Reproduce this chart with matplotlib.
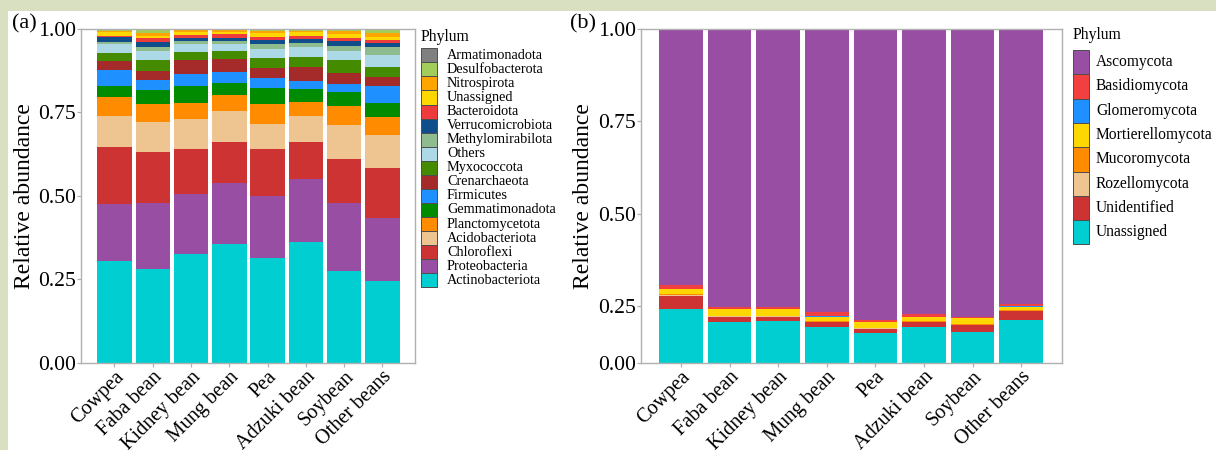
import numpy as np
import matplotlib
matplotlib.use("Agg")
import matplotlib.pyplot as plt
from matplotlib.patches import Rectangle
from matplotlib.ticker import NullLocator

plt.rcParams['font.family'] = ['Liberation Serif', 'DejaVu Serif']

# ---------------- data ----------------
crops = ["Cowpea", "Faba bean", "Kidney bean", "Mung bean", "Pea",
         "Adzuki bean", "Soybean", "Other beans"]

# Bacterial phyla, listed from the bottom of each stack to the top
bac_phyla = ["Actinobacteriota", "Proteobacteria", "Chloroflexi", "Acidobacteriota",
             "Planctomycetota", "Gemmatimonadota", "Firmicutes", "Crenarchaeota",
             "Myxococcota", "Others", "Methylomirabilota", "Verrucomicrobiota",
             "Bacteroidota", "Unassigned", "Nitrospirota", "Desulfobacterota",
             "Armatimonadota"]
bac_colors = ["#00CED1", "#984EA3", "#CD3333", "#EEC591", "#FF8C00", "#008B00",
              "#1E90FF", "#A52A2A", "#458B00", "#ADD8E6", "#8FBC8F", "#104E8B",
              "#EE3B3B", "#FFD700", "#FFA500", "#A2CD5A", "#808080"]

actinobacteriota  = [0.306, 0.280, 0.326, 0.356, 0.314, 0.362, 0.274, 0.244]
proteobacteria    = [0.169, 0.198, 0.180, 0.183, 0.186, 0.189, 0.204, 0.191]
chloroflexi       = [0.171, 0.152, 0.135, 0.123, 0.139, 0.110, 0.131, 0.148]
acidobacteriota   = [0.094, 0.091, 0.090, 0.092, 0.076, 0.077, 0.102, 0.099]
planctomycetota   = [0.055, 0.054, 0.047, 0.048, 0.059, 0.043, 0.059, 0.055]
gemmatimonadota   = [0.035, 0.042, 0.052, 0.037, 0.049, 0.039, 0.042, 0.042]
firmicutes        = [0.047, 0.029, 0.034, 0.032, 0.029, 0.023, 0.024, 0.051]
crenarchaeota     = [0.028, 0.027, 0.042, 0.040, 0.031, 0.044, 0.032, 0.026]
myxococcota       = [0.022, 0.033, 0.026, 0.023, 0.031, 0.030, 0.039, 0.031]
others_bac        = [0.027, 0.029, 0.022, 0.020, 0.025, 0.028, 0.028, 0.035]
methylomirabilota = [0.008, 0.012, 0.010, 0.010, 0.015, 0.012, 0.015, 0.023]
verrucomicrobiota = [0.013, 0.013, 0.010, 0.010, 0.013, 0.012, 0.015, 0.012]
bacteroidota      = [0.005, 0.012, 0.008, 0.010, 0.008, 0.010, 0.007, 0.010]
unassigned_bac    = [0.010, 0.008, 0.010, 0.008, 0.013, 0.011, 0.013, 0.009]
nitrospirota      = [0.005, 0.007, 0.004, 0.004, 0.006, 0.005, 0.008, 0.011]
desulfobacterota  = [0.003, 0.011, 0.002, 0.002, 0.003, 0.003, 0.005, 0.010]
armatimonadota    = [0.002, 0.002, 0.002, 0.002, 0.003, 0.002, 0.002, 0.003]

bac_values = [actinobacteriota, proteobacteria, chloroflexi, acidobacteriota,
              planctomycetota, gemmatimonadota, firmicutes, crenarchaeota,
              myxococcota, others_bac, methylomirabilota, verrucomicrobiota,
              bacteroidota, unassigned_bac, nitrospirota, desulfobacterota,
              armatimonadota]

# Fungal phyla, bottom of each stack to the top
fun_phyla = ["Unassigned", "Unidentified", "Rozellomycota", "Mucoromycota",
             "Mortierellomycota", "Glomeromycota", "Basidiomycota", "Ascomycota"]
fun_colors = ["#00CED1", "#CD3333", "#EEC591", "#FF8C00", "#FFD700",
              "#1E90FF", "#F24040", "#984EA3"]

unassigned_fun    = [0.236, 0.181, 0.182, 0.156, 0.130, 0.159, 0.137, 0.188]
unidentified      = [0.042, 0.022, 0.021, 0.022, 0.019, 0.019, 0.029, 0.040]
rozellomycota     = [0.002, 0.002, 0.002, 0.002, 0.002, 0.002, 0.002, 0.002]
mucoromycota      = [0.003, 0.003, 0.003, 0.003, 0.004, 0.003, 0.003, 0.003]
mortierellomycota = [0.012, 0.027, 0.027, 0.020, 0.024, 0.017, 0.025, 0.014]
glomeromycota     = [0.001, 0.001, 0.001, 0.001, 0.001, 0.001, 0.001, 0.001]
basidiomycota     = [0.011, 0.008, 0.009, 0.018, 0.006, 0.012, 0.004, 0.008]
ascomycota        = [0.693, 0.756, 0.755, 0.778, 0.814, 0.787, 0.799, 0.744]

fun_values = [unassigned_fun, unidentified, rozellomycota, mucoromycota,
              mortierellomycota, glomeromycota, basidiomycota, ascomycota]

yticks = [0.00, 0.25, 0.50, 0.75, 1.00]

# ---------------- figure ----------------
W, H = 1216, 450
fig = plt.figure(figsize=(W / 100, H / 100), dpi=100, facecolor="white")


def fx(px):
    return px / W


def fy(py):
    return 1 - py / H


# coloured frame strips along the top and left edges
band = "#D9DFC1"
fig.patches.append(Rectangle((0, fy(11)), 1, 11 / H, transform=fig.transFigure,
                             facecolor=band, edgecolor="none", zorder=0))
fig.patches.append(Rectangle((0, 0), fx(8), 1, transform=fig.transFigure,
                             facecolor=band, edgecolor="none", zorder=0))

SPINE = "#B0B0B0"
TICK_FS = 15.6
XT_FS = 14.6
LAB_FS = 17


def style_axes(ax):
    for s in ax.spines.values():
        s.set_color(SPINE)
        s.set_linewidth(1.0)
    ax.tick_params(axis="both", colors=SPINE, length=2.6, width=0.9,
                   labelcolor="black", pad=0.8)
    ax.tick_params(axis="y", labelsize=TICK_FS)
    ax.set_yticks(yticks)
    ax.set_yticklabels([f"{t:.2f}" for t in yticks])
    ax.set_xticks(np.arange(len(crops)))
    ax.set_xticklabels(crops, rotation=45, ha="right", va="top",
                       rotation_mode="anchor", fontsize=XT_FS)
    ax.set_ylabel("Relative abundance", fontsize=LAB_FS)


def stack(ax, values, colors):
    x = np.arange(len(crops))
    bottom = np.zeros(len(crops))
    for vals, col in zip(values, colors):
        v = np.asarray(vals)
        ax.bar(x, v, bottom=bottom, width=0.9, color=col, linewidth=0)
        bottom += v


def legend(x_key, y_title, y_first, row_h, names, colors, fs, gap):
    fig.text(fx(x_key), fy(y_title), "Phylum", fontsize=11.3,
             ha="left", va="center")
    for i, (nm, col) in enumerate(zip(names, colors)):
        top = y_first + i * row_h
        fig.patches.append(Rectangle((fx(x_key), fy(top + row_h)), 16 / W, row_h / H,
                                     transform=fig.transFigure, facecolor=col,
                                     edgecolor="#4D4D4D", linewidth=0.7))
        fig.text(fx(x_key + gap), fy(top + row_h / 2), nm, fontsize=fs,
                 ha="left", va="center")


# ---------------- (a) bacteria ----------------
axA = fig.add_axes([fx(81), fy(362.7), fx(415) - fx(81), (362.7 - 29) / H])
stack(axA, bac_values, bac_colors)
axA.set_xlim(-0.875, 7.85)
axA.set_ylim(0, 1)
style_axes(axA)
axA.yaxis.set_label_coords(-0.138, 0.5)
fig.text(fx(12), fy(24), "(a)", fontsize=16, ha="left", va="center")
legend(421, 37, 48.3, 14.06, bac_phyla[::-1], bac_colors[::-1], 10.3, 26)

# ---------------- (b) fungi ----------------
BREAK, BREAK_POS = 0.25, 0.17


def fwd(y):
    y = np.asarray(y, float)
    return np.where(y < BREAK, y * BREAK_POS / BREAK,
                    BREAK_POS + (y - BREAK) * (1 - BREAK_POS) / (1 - BREAK))


def inv(t):
    t = np.asarray(t, float)
    return np.where(t < BREAK_POS, t * BREAK / BREAK_POS,
                    BREAK + (t - BREAK_POS) * (1 - BREAK) / (1 - BREAK_POS))


axB = fig.add_axes([fx(641), fy(362.7), fx(1062) - fx(641), (362.7 - 29) / H])
axB.set_yscale("function", functions=(fwd, inv))
stack(axB, fun_values, fun_colors)
axB.set_xlim(-0.823, 7.84)
axB.set_ylim(0, 1)
style_axes(axB)
axB.yaxis.set_minor_locator(NullLocator())
axB.yaxis.set_label_coords(-0.112, 0.5)
fig.text(fx(570), fy(24), "(b)", fontsize=16, ha="left", va="center")
legend(1073, 35, 50, 24.3, fun_phyla[::-1], fun_colors[::-1], 11.2, 23)

fig.savefig("out.png", dpi=100, facecolor="white")
